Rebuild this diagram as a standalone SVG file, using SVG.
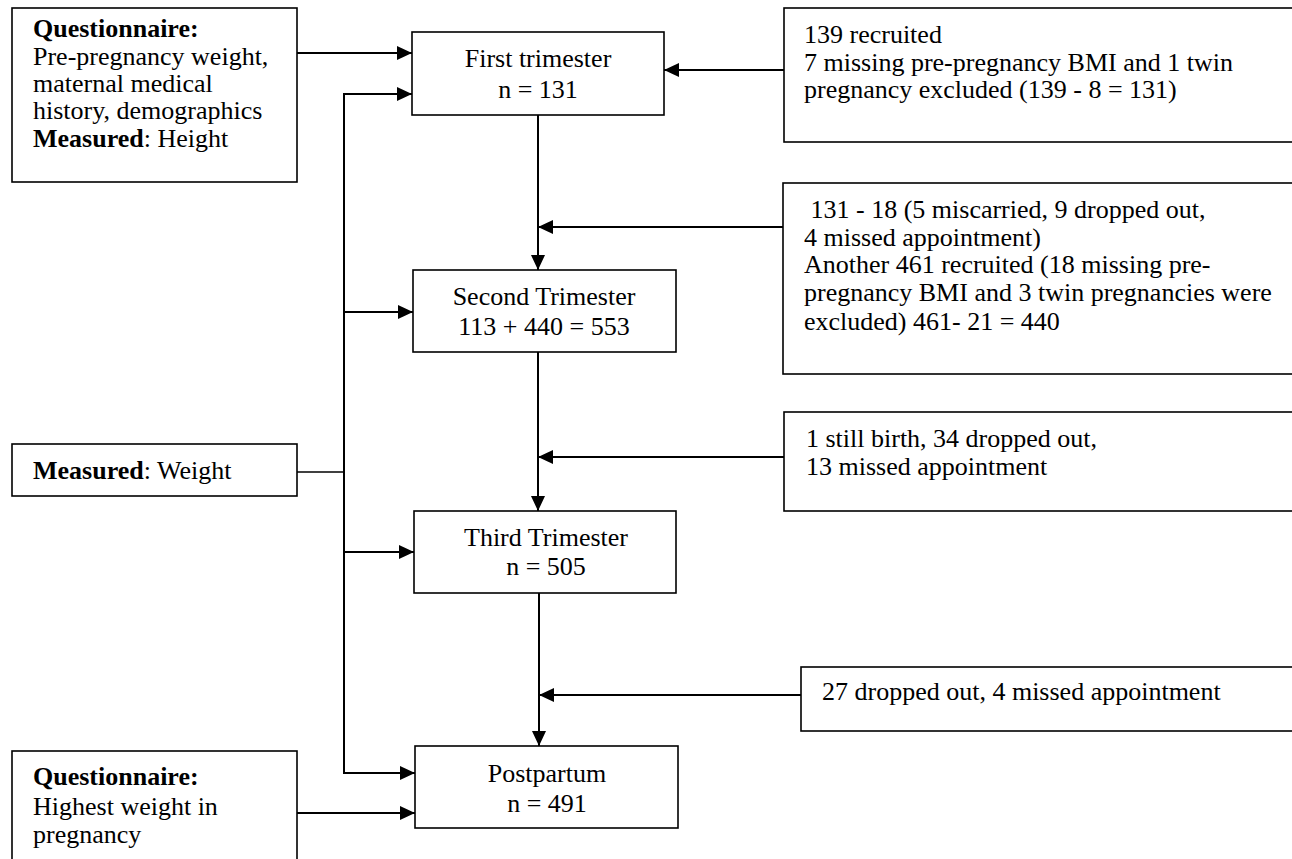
<svg xmlns="http://www.w3.org/2000/svg" width="1292" height="859" viewBox="0 0 1292 859">
<style>
.box{fill:#fff;stroke:#000;stroke-width:1.6}
.t{font-family:"Liberation Serif","Times New Roman",serif;font-size:26px;fill:#000}
.c{text-anchor:middle}
.b{font-weight:bold}
.ln{fill:none;stroke:#000;stroke-width:2}
.thin{fill:none;stroke:#000;stroke-width:1.4}
</style>
<defs>
<marker id="ah" markerUnits="userSpaceOnUse" markerWidth="16" markerHeight="14" refX="15" refY="7" orient="auto">
<path d="M0,0 L15,7 L0,14 Z" fill="#000"/>
</marker>
</defs>
<rect width="1292" height="859" fill="#fff"/>

<g id="connectors">
<line class="ln" x1="297" y1="53" x2="412" y2="53" marker-end="url(#ah)"/>
<polyline class="ln" points="412,94 344,94 344,773"/>
<line class="ln" x1="344" y1="94" x2="412" y2="94" marker-end="url(#ah)"/>
<line class="thin" x1="297" y1="472" x2="344" y2="472"/>
<line class="ln" x1="344" y1="312" x2="413" y2="312" marker-end="url(#ah)"/>
<line class="ln" x1="344" y1="552" x2="414" y2="552" marker-end="url(#ah)"/>
<line class="ln" x1="343" y1="773" x2="415" y2="773" marker-end="url(#ah)"/>
<line class="ln" x1="297" y1="813" x2="415" y2="813" marker-end="url(#ah)"/>
<line class="ln" x1="784" y1="70" x2="664" y2="70" marker-end="url(#ah)"/>
<line class="ln" x1="538" y1="115" x2="538" y2="270" marker-end="url(#ah)"/>
<line class="ln" x1="783" y1="227" x2="538" y2="227" marker-end="url(#ah)"/>
<line class="ln" x1="538" y1="352" x2="538" y2="511" marker-end="url(#ah)"/>
<line class="ln" x1="784" y1="457" x2="538" y2="457" marker-end="url(#ah)"/>
<line class="ln" x1="539" y1="593" x2="539" y2="746" marker-end="url(#ah)"/>
<line class="ln" x1="801" y1="695" x2="539" y2="695" marker-end="url(#ah)"/>
</g>

<g id="q1">
<rect class="box" x="12" y="8" width="285" height="174"/>
<text class="t b" x="33" y="37">Questionnaire:</text>
<text class="t" x="33" y="65">Pre-pregnancy weight,</text>
<text class="t" x="33" y="92">maternal medical</text>
<text class="t" x="33" y="119">history, demographics</text>
<text class="t" x="33" y="147"><tspan class="b">Measured</tspan>: Height</text>
</g>

<g id="first">
<rect class="box" x="412" y="32" width="252" height="83"/>
<text class="t c" x="538" y="67">First trimester</text>
<text class="t c" x="538" y="98">n = 131</text>
</g>

<g id="r1">
<rect class="box" x="784" y="8" width="520" height="134"/>
<text class="t" x="804" y="43">139 recruited</text>
<text class="t" x="804" y="71">7 missing pre-pregnancy BMI and 1 twin</text>
<text class="t" x="804" y="98">pregnancy excluded (139 - 8 = 131)</text>
</g>

<g id="r2">
<rect class="box" x="783" y="183" width="520" height="191"/>
<text class="t" x="804" y="218" xml:space="preserve"> 131 - 18 (5 miscarried, 9 dropped out,</text>
<text class="t" x="804" y="246">4 missed appointment)</text>
<text class="t" x="804" y="273">Another 461 recruited (18 missing pre-</text>
<text class="t" x="804" y="301">pregnancy BMI and 3 twin pregnancies were</text>
<text class="t" x="804" y="330">excluded) 461- 21 = 440</text>
</g>

<g id="second">
<rect class="box" x="413" y="270" width="263" height="82"/>
<text class="t c" x="544" y="305">Second Trimester</text>
<text class="t c" x="544" y="335">113 + 440 = 553</text>
</g>

<g id="weight">
<rect class="box" x="12" y="444" width="285" height="52"/>
<text class="t" x="33" y="479"><tspan class="b">Measured</tspan>: Weight</text>
</g>

<g id="r3">
<rect class="box" x="784" y="412" width="520" height="99"/>
<text class="t" x="806" y="447">1 still birth, 34 dropped out,</text>
<text class="t" x="806" y="475">13 missed appointment</text>
</g>

<g id="third">
<rect class="box" x="414" y="511" width="262" height="82"/>
<text class="t c" x="546" y="546">Third Trimester</text>
<text class="t c" x="546" y="575">n = 505</text>
</g>

<g id="r4">
<rect class="box" x="801" y="667" width="520" height="64"/>
<text class="t" x="822" y="700">27 dropped out, 4 missed appointment</text>
</g>

<g id="postpartum">
<rect class="box" x="415" y="746" width="263" height="82"/>
<text class="t c" x="547" y="782">Postpartum</text>
<text class="t c" x="547" y="812">n = 491</text>
</g>

<g id="q2">
<rect class="box" x="12" y="751" width="285" height="130"/>
<text class="t b" x="33" y="785">Questionnaire:</text>
<text class="t" x="33" y="815">Highest weight in</text>
<text class="t" x="33" y="843">pregnancy</text>
</g>
</svg>
